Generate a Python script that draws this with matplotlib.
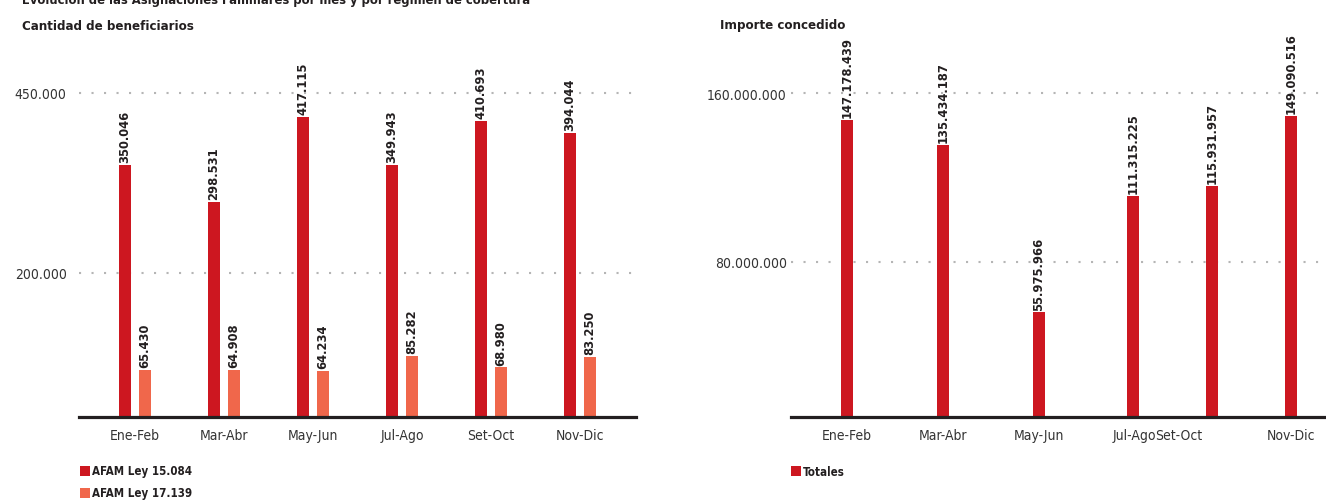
import matplotlib
matplotlib.use("Agg")
import matplotlib.pyplot as plt
from matplotlib.patches import Rectangle

# bimestres
periodos = ["Ene-Feb", "Mar-Abr", "May-Jun", "Jul-Ago", "Set-Oct", "Nov-Dic"]

# cantidad de beneficiarios por régimen
afam_15084 = [350046, 298531, 417115, 349943, 410693, 394044]
afam_17139 = [65430, 64908, 64234, 85282, 68980, 83250]

# importe concedido total
importe_total = [147178439, 135434187, 55975966, 111315225, 115931957, 149090516]

ticks_benef = [200000, 450000]
ticks_importe = [80000000, 160000000]

# ubicación de las columnas en el panel derecho (espaciado irregular)
slots_importe = [0, 1, 2, 2.98, 3.80, 4.625]
slots_etiquetas = [0, 1, 2, 2.99, 3.46, 4.625]

ROJO = "#cd1720"
NARANJA = "#f0674b"
OSCURO = "#231f20"

plt.rcParams["font.family"] = ["DejaVu Sans"]
plt.rcParams["font.stretch"] = "condensed"

W, H = 1326, 502
fig = plt.figure(figsize=(W / 100, H / 100), dpi=100)


def rect(x0, x1, ytop, ybot):
    return [x0 / W, (H - ybot) / H, (x1 - x0) / W, (ybot - ytop) / H]


def miles(v):
    return f"{v:,}".replace(",", ".")


def estilo(ax, ticks, pad):
    for s in ["top", "right", "left"]:
        ax.spines[s].set_visible(False)
    ax.spines["bottom"].set_linewidth(2.3)
    ax.spines["bottom"].set_color(OSCURO)
    ax.spines["bottom"].set_zorder(5)
    ax.set_yticks(ticks)
    ax.set_yticklabels([miles(t) for t in ticks])
    ax.tick_params(axis="y", length=0, pad=pad, labelsize=10, labelcolor="#333333")
    ax.tick_params(axis="x", length=0, pad=8, labelsize=10, labelcolor="#333333")
    ax.yaxis.grid(True, linestyle=(0, (1.0, 5.0)), color="#b5b5b5", linewidth=1.5)
    ax.set_axisbelow(True)


def etiquetas(ax, xs, vals):
    for x, v in zip(xs, vals):
        ax.annotate(miles(v), (x, v), xytext=(0, 2), textcoords="offset points",
                    rotation=90, ha="center", va="bottom", fontsize=9.3,
                    fontweight="bold", color=OSCURO)


# panel izquierdo: beneficiarios
ax1 = fig.add_axes(rect(79, 636, 50, 418))
x = list(range(len(periodos)))
off, ancho = 0.112, 0.135
xr = [i - off for i in x]
xn = [i + off for i in x]
ax1.bar(xr, afam_15084, width=ancho, color=ROJO, zorder=3)
ax1.bar(xn, afam_17139, width=ancho, color=NARANJA, zorder=3)
etiquetas(ax1, xr, afam_15084)
etiquetas(ax1, xn, afam_17139)
ax1.set_xlim(-0.63, 5.63)
ax1.set_ylim(0, 511000)
ax1.set_xticks(x)
ax1.set_xticklabels(periodos)
estilo(ax1, ticks_benef, 9)

# panel derecho: importe
ax2 = fig.add_axes(rect(791, 1326, 50, 418))
ax2.bar(slots_importe, importe_total, width=0.125, color=ROJO, zorder=3)
etiquetas(ax2, slots_importe, importe_total)
ax2.set_xlim(-0.583, 4.99)
ax2.set_ylim(6.3e6, 6.3e6 + 368 * 474500)
ax2.set_xticks(slots_etiquetas)
ax2.set_xticklabels(periodos)
estilo(ax2, ticks_importe, 3)

# títulos
fig.text(22 / W, 1 - 4 / H, "Evolución de las Asignaciones Familiares por mes y por régimen de cobertura",
         fontsize=9.3, fontweight="bold", color=OSCURO, va="baseline")
fig.text(22 / W, 1 - 26 / H, "Cantidad de beneficiarios", fontsize=9.5,
         fontweight="bold", color=OSCURO, va="center")
fig.text(720 / W, 1 - 26 / H, "Importe concedido", fontsize=9.5,
         fontweight="bold", color=OSCURO, va="center")

# leyendas
def leyenda(x0, yc, color, texto):
    fig.add_artist(Rectangle((x0 / W, 1 - (yc + 5) / H), 10 / W, 10 / H,
                             transform=fig.transFigure, color=color, lw=0))
    fig.text((x0 + 12) / W, 1 - yc / H, texto, fontsize=8.3, fontweight="bold",
             color=OSCURO, va="center")

leyenda(80, 472, ROJO, "AFAM Ley 15.084")
leyenda(80, 494, NARANJA, "AFAM Ley 17.139")
leyenda(791, 472, ROJO, "Totales")

fig.savefig("out.png", dpi=100)
